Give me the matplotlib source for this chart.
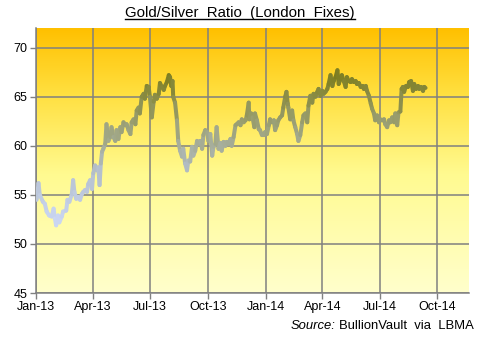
import numpy as np
import pandas as pd
import matplotlib
matplotlib.use("Agg")
import matplotlib.pyplot as plt
import matplotlib.dates as mdates
from matplotlib.collections import LineCollection
from matplotlib.colors import LinearSegmentedColormap, Normalize

plt.rcParams['font.family'] = ['Liberation Sans', 'DejaVu Sans']

# Gold/Silver ratio, London fixes
dates = [
    "2013-01-02", "2013-01-05", "2013-01-07", "2013-01-12", "2013-01-15", "2013-01-18",
    "2013-01-22", "2013-01-26", "2013-01-29", "2013-01-31", "2013-02-02", "2013-02-05",
    "2013-02-07", "2013-02-11", "2013-02-13", "2013-02-18", "2013-02-20", "2013-02-23",
    "2013-02-27", "2013-03-01", "2013-03-03", "2013-03-06", "2013-03-09", "2013-03-12",
    "2013-03-15", "2013-03-17", "2013-03-20", "2013-03-23", "2013-03-25", "2013-03-28",
    "2013-03-31", "2013-04-02", "2013-04-05", "2013-04-08", "2013-04-10", "2013-04-12",
    "2013-04-14", "2013-04-16", "2013-04-18", "2013-04-21", "2013-04-23", "2013-04-26",
    "2013-04-29", "2013-05-01", "2013-05-04", "2013-05-07", "2013-05-09", "2013-05-12",
    "2013-05-15", "2013-05-17", "2013-05-20", "2013-05-23", "2013-05-25", "2013-05-28",
    "2013-05-31", "2013-06-02", "2013-06-05", "2013-06-08", "2013-06-10", "2013-06-13",
    "2013-06-15", "2013-06-18", "2013-06-21", "2013-06-23", "2013-06-26", "2013-06-29",
    "2013-07-01", "2013-07-04", "2013-07-07", "2013-07-09", "2013-07-12", "2013-07-15",
    "2013-07-17", "2013-07-20", "2013-07-23", "2013-07-25", "2013-07-28", "2013-07-31",
    "2013-08-02", "2013-08-04", "2013-08-06", "2013-08-07", "2013-08-10", "2013-08-13",
    "2013-08-15", "2013-08-18", "2013-08-21", "2013-08-23", "2013-08-26", "2013-08-29",
    "2013-08-31", "2013-09-03", "2013-09-06", "2013-09-08", "2013-09-11", "2013-09-14",
    "2013-09-16", "2013-09-19", "2013-09-22", "2013-09-24", "2013-09-27", "2013-09-30",
    "2013-10-02", "2013-10-05", "2013-10-08", "2013-10-10", "2013-10-13", "2013-10-15",
    "2013-10-18", "2013-10-21", "2013-10-23", "2013-10-26", "2013-10-29", "2013-10-31",
    "2013-11-03", "2013-11-06", "2013-11-08", "2013-11-11", "2013-11-14", "2013-11-16",
    "2013-11-19", "2013-11-22", "2013-11-24", "2013-11-27", "2013-11-30", "2013-12-02",
    "2013-12-05", "2013-12-06", "2013-12-09", "2013-12-11", "2013-12-14", "2013-12-15",
    "2013-12-18", "2013-12-21", "2013-12-23", "2013-12-26", "2013-12-29", "2013-12-31",
    "2014-01-03", "2014-01-06", "2014-01-08", "2014-01-11", "2014-01-14", "2014-01-16",
    "2014-01-19", "2014-01-21", "2014-01-24", "2014-01-27", "2014-01-29", "2014-02-01",
    "2014-02-03", "2014-02-05", "2014-02-06", "2014-02-09", "2014-02-12", "2014-02-14",
    "2014-02-17", "2014-02-20", "2014-02-22", "2014-02-25", "2014-02-28", "2014-03-02",
    "2014-03-05", "2014-03-08", "2014-03-10", "2014-03-13", "2014-03-16", "2014-03-18",
    "2014-03-21", "2014-03-24", "2014-03-26", "2014-03-29", "2014-04-01", "2014-04-03",
    "2014-04-06", "2014-04-09", "2014-04-11", "2014-04-14", "2014-04-17", "2014-04-19",
    "2014-04-22", "2014-04-25", "2014-04-27", "2014-04-30", "2014-05-02", "2014-05-05",
    "2014-05-08", "2014-05-10", "2014-05-13", "2014-05-16", "2014-05-18", "2014-05-21",
    "2014-05-24", "2014-05-26", "2014-05-29", "2014-06-01", "2014-06-04", "2014-06-06",
    "2014-06-09", "2014-06-11", "2014-06-14", "2014-06-17", "2014-06-19", "2014-06-22",
    "2014-06-24", "2014-06-27", "2014-06-30", "2014-07-02", "2014-07-05", "2014-07-08",
    "2014-07-10", "2014-07-13", "2014-07-16", "2014-07-18", "2014-07-21", "2014-07-24",
    "2014-07-26", "2014-07-29", "2014-07-31", "2014-08-03", "2014-08-05", "2014-08-07",
    "2014-08-09", "2014-08-12", "2014-08-15", "2014-08-17", "2014-08-20", "2014-08-23",
    "2014-08-25", "2014-08-28", "2014-08-31", "2014-09-02", "2014-09-05", "2014-09-08",
    "2014-09-10", "2014-09-12",
]
ratio = [
    54.5, 56.2, 55.0, 54.3, 54.1, 53.3,
    52.9, 52.8, 53.6, 52.6, 51.9, 52.9,
    52.2, 52.8, 53.3, 53.4, 54.5, 54.3,
    55.1, 56.5, 55.3, 54.6, 54.8, 54.5,
    55.1, 55.3, 55.5, 55.3, 56.1, 56.5,
    55.6, 57.2, 58.0, 57.5, 57.8, 56.0,
    58.2, 59.4, 59.7, 60.2, 62.2, 60.5,
    60.9, 61.9, 60.9, 60.5, 61.6, 60.7,
    61.9, 61.4, 62.4, 62.1, 62.2, 61.6,
    61.2, 62.4, 62.7, 62.2, 63.6, 63.9,
    63.3, 65.0, 65.3, 64.8, 66.1, 66.0,
    65.0, 62.9, 64.5, 65.2, 64.8, 65.3,
    66.4, 66.0, 65.7, 66.1, 66.5, 67.2,
    67.0, 66.1, 66.6, 65.0, 64.4, 62.6,
    60.5, 59.5, 58.9, 59.7, 58.2, 57.5,
    58.5, 58.4, 59.9, 59.0, 59.5, 60.5,
    60.2, 60.5, 59.7, 61.1, 61.6, 61.4,
    60.5, 61.2, 59.0, 59.9, 60.2, 61.9,
    59.7, 60.3, 59.5, 60.4, 60.0, 60.4,
    60.2, 60.7, 60.0, 60.9, 62.1, 62.2,
    62.4, 62.1, 62.7, 62.4, 62.6, 63.1,
    64.4, 62.7, 63.3, 62.9, 61.9, 63.3,
    62.6, 61.7, 61.6, 61.1, 61.1, 61.4,
    61.2, 62.1, 62.7, 62.4, 62.6, 61.6,
    62.1, 62.6, 62.9, 63.1, 63.9, 65.0,
    65.5, 64.3, 63.9, 62.7, 63.6, 62.6,
    61.9, 61.2, 60.5, 61.1, 62.4, 63.1,
    63.3, 62.4, 64.1, 65.1, 64.4, 65.3,
    65.0, 65.5, 65.8, 65.1, 65.6, 65.3,
    65.5, 65.8, 66.3, 67.2, 66.1, 66.6,
    67.0, 67.7, 66.3, 66.8, 67.2, 66.6,
    66.0, 67.0, 66.6, 66.5, 66.8, 66.5,
    66.6, 66.3, 66.4, 66.0, 66.1, 65.8,
    66.1, 65.6, 65.1, 64.3, 63.8, 63.3,
    62.6, 63.1, 62.4, 62.7, 62.6, 62.7,
    62.2, 61.9, 62.6, 62.4, 62.9, 62.4,
    63.3, 62.1, 63.4, 63.5, 65.8, 66.0,
    65.5, 66.1, 66.0, 66.5, 66.6, 65.6,
    66.3, 65.8, 66.1, 65.8, 66.0, 65.6,
    66.0, 65.9,
]

tick_dates = ["2013-01-01", "2013-04-01", "2013-07-01", "2013-10-01",
              "2014-01-01", "2014-04-01", "2014-07-01", "2014-10-01"]
tick_labels = ["Jan-13", "Apr-13", "Jul-13", "Oct-13",
               "Jan-14", "Apr-14", "Jul-14", "Oct-14"]
y_ticks = [45, 50, 55, 60, 65, 70]

fig = plt.figure(figsize=(4.8, 3.38), dpi=100)
fig.patch.set_facecolor("white")
ax = fig.add_axes([0.075, 0.133, 0.902, 0.784])

x_start = pd.Timestamp("2013-01-01")
x_end = pd.Timestamp("2014-11-20")
ax.set_xlim(x_start, x_end)
ax.set_ylim(45, 72)

# gold-to-cream background gradient
bg = LinearSegmentedColormap.from_list(
    "bg", [(0.0, "#ffffcc"), (0.45, "#fffa90"), (0.75, "#ffe040"), (1.0, "#ffc000")])
grad = np.linspace(0, 1, 256).reshape(-1, 1)
ax.imshow(grad, cmap=bg, origin="lower", aspect="auto",
          extent=[0, 1, 0, 1], transform=ax.transAxes, zorder=0)

# grid
for d in tick_dates:
    ax.axvline(pd.Timestamp(d), color="#808080", lw=1.1, zorder=1)
for v in y_ticks:
    ax.axhline(v, color="#808080", lw=1.1, zorder=1)

# series coloured by level
x = mdates.date2num(pd.to_datetime(dates))
y = np.array(ratio)
pts = np.column_stack([x, y]).reshape(-1, 1, 2)
segs = np.concatenate([pts[:-1], pts[1:]], axis=1)
line_cmap = LinearSegmentedColormap.from_list(
    "lvl", [(0.0, "#ccd8f6"), (0.35, "#b4bfcc"), (0.6, "#a0a684"), (1.0, "#7c7c1c")])
lc = LineCollection(segs, cmap=line_cmap, norm=Normalize(52, 67.5),
                    linewidths=2.9, capstyle="round", joinstyle="round", zorder=3)
lc.set_array((y[:-1] + y[1:]) / 2)
ax.add_collection(lc)

ax.set_xticks(pd.to_datetime(tick_dates))
ax.set_xticklabels(tick_labels)
ax.set_yticks(y_ticks)
ax.tick_params(axis="both", labelsize=9, colors="#808080", labelcolor="black",
               length=4, width=1.0, direction="out", pad=2)

for s in ["top", "right"]:
    ax.spines[s].set_visible(False)
for s in ["left", "bottom"]:
    ax.spines[s].set_color("#808080")
    ax.spines[s].set_linewidth(1.1)

# underlined title
title = fig.text(0.5, 0.962, "Gold/Silver  Ratio  (London  Fixes)",
                 ha="center", va="center", fontsize=10.8)
fig.canvas.draw()
bb = title.get_window_extent().transformed(fig.transFigure.inverted())
fig.add_artist(plt.Line2D([bb.x0, bb.x1], [bb.y0 + 0.002, bb.y0 + 0.002],
                          color="black", lw=1.0, transform=fig.transFigure))

# source note
src = fig.text(0.988, 0.035, "BullionVault  via  LBMA", ha="right", va="center",
               fontsize=9.4)
fig.canvas.draw()
sb = src.get_window_extent().transformed(fig.transFigure.inverted())
fig.text(sb.x0 - 0.008, 0.035, "Source:", ha="right", va="center",
         fontsize=9.4, style="italic")

fig.savefig("out.png", dpi=100)
